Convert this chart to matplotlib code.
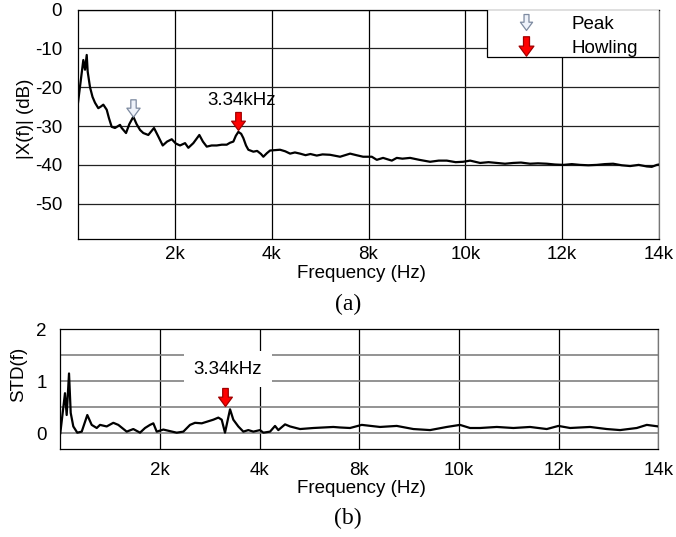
import matplotlib
matplotlib.use('Agg')
import matplotlib.pyplot as plt
from matplotlib.path import Path
from matplotlib.lines import Line2D
from matplotlib.patches import Rectangle

plt.rcParams['font.family'] = ['Liberation Sans', 'DejaVu Sans']
plt.rcParams['axes.unicode_minus'] = False

# (a) spectrum magnitude
freq_a = [0, 60, 110, 145, 180, 200, 248, 300, 351, 419, 470, 523, 593, 640, 696, 764,
          868, 903, 992, 1060, 1143, 1210, 1281, 1349, 1452, 1570, 1659, 1750, 1840, 1936,
          2020, 2107, 2211, 2279, 2382, 2506, 2580, 2659, 2760, 2866, 2970, 3072, 3140,
          3209, 3260, 3312, 3370, 3415, 3470, 3518, 3622, 3700, 3780, 3828, 3900, 3967,
          4070, 4173, 4280, 4380, 4480, 4587, 4700, 4800, 4931, 5050, 5206, 5413, 5620,
          5750, 5888, 6068, 6171, 6301, 6481, 6584, 6700, 6859, 7050, 7272, 7450, 7617,
          7800, 7954, 8099, 8305, 8480, 8650, 8820, 8987, 9150, 9337, 9500, 9683, 9850,
          10026, 10200, 10371, 10540, 10716, 10880, 11053, 11230, 11404, 11580, 11749,
          11850, 11956, 12000]
mag_a = [-24, -18, -13, -15.5, -11.7, -16, -20, -22.5, -24, -25.4, -25, -24.5, -25.8, -28,
         -30.2, -30.5, -29.7, -30.5, -31.8, -29.5, -27.6, -29.5, -31, -31.8, -32.3, -30.5,
         -32.7, -35, -34, -33.4, -34.5, -35, -34.4, -35.6, -34.4, -32.3, -34, -35.3, -35,
         -35, -34.8, -34.8, -34.3, -34, -32.5, -31.5, -32, -33.1, -35, -36.1, -36.6, -36.4,
         -37.2, -37.9, -37, -36.3, -36.2, -36.1, -36.5, -37.1, -36.8, -37.1, -37.5, -37.2,
         -37.6, -37.3, -37.4, -37.9, -37.1, -37.5, -37.9, -37.9, -38.7, -38.2, -38.9,
         -38.2, -38.4, -38.2, -38.7, -39.2, -38.9, -38.9, -39.3, -39.2, -38.9, -39.5,
         -39.3, -39.5, -39.7, -39.5, -39.4, -39.7, -39.6, -39.7, -39.9, -40, -39.8, -40,
         -40.1, -40, -39.8, -39.7, -40.1, -40.3, -40.0, -40.4, -40.5, -40, -39.9]

# (b) standard deviation
freq_b = [0, 94, 128, 175, 209, 261, 341, 430, 542, 630, 731, 797, 931, 1064, 1164, 1333,
          1465, 1600, 1700, 1800, 1867, 1935, 2067, 2200, 2336, 2469, 2603, 2703, 2838,
          2938, 3071, 3171, 3239, 3305, 3406, 3472, 3572, 3673, 3773, 3874, 4008, 4074,
          4209, 4309, 4375, 4510, 4610, 4811, 5078, 5479, 5613, 5814, 6049, 6415, 6752,
          7085, 7420, 7755, 8020, 8222, 8422, 8759, 9092, 9427, 9762, 9995, 10230, 10631,
          10966, 11233, 11568, 11769, 12000]
std_b = [0, 0.77, 0.35, 1.15, 0.39, 0.13, 0.01, 0.03, 0.35, 0.16, 0.1, 0.16, 0.13, 0.2,
         0.16, 0.03, 0.08, 0.01, 0.1, 0.16, 0.19, 0.03, 0.07, 0.04, 0.01, 0.03, 0.16, 0.2,
         0.19, 0.22, 0.26, 0.3, 0.26, 0.01, 0.46, 0.26, 0.13, 0.03, 0.06, 0.03, 0.06, 0.01,
         0.03, 0.14, 0.06, 0.17, 0.13, 0.08, 0.1, 0.12, 0.11, 0.1, 0.16, 0.12, 0.14, 0.08,
         0.06, 0.12, 0.16, 0.1, 0.1, 0.12, 0.1, 0.12, 0.08, 0.14, 0.1, 0.12, 0.08, 0.06,
         0.1, 0.16, 0.13]

tick_pos = [2000, 4000, 6000, 8000, 10000, 12000]
tick_labels = ['2k', '4k', '8k', '10k', '12k', '14k']

arrow = Path([(-0.17, 0.55), (0.17, 0.55), (0.17, 0.02), (0.42, 0.02), (0, -0.55),
              (-0.42, 0.02), (-0.17, 0.02), (-0.17, 0.55)], closed=True)
white_kw = dict(marker=arrow, ls='none', mfc='#eef2fa', mec='#7d8aa0', mew=0.9)
red_kw = dict(marker=arrow, ls='none', mfc='#ff0000', mec='#a00000', mew=0.9)

fs = 13.5
fig = plt.figure(figsize=(6.76, 5.37), dpi=100)
W, H = 676, 537


def px_axes(l, t, r, b):
    return fig.add_axes([l / W, 1 - b / H, (r - l) / W, (b - t) / H])


# ---- (a)
ax1 = px_axes(78, 9.5, 659, 238.7)
ax1.plot(freq_a, mag_a, color='black', lw=1.6, zorder=3)
ax1.set_xlim(0, 12000)
ax1.set_ylim(-59, 0)
ax1.set_xticks(tick_pos, tick_labels)
ax1.set_yticks([0, -10, -20, -30, -40, -50])
ax1.grid(axis='x', color='black', lw=0.9)
ax1.grid(axis='y', color='#222222', lw=0.9)
ax1.tick_params(length=0, labelsize=fs)
ax1.tick_params(axis='x', pad=5.5)
ax1.tick_params(axis='y', pad=11.5)
for s in ax1.spines.values():
    s.set_linewidth(0.9)
ax1.spines['right'].set_color('#777777')

ax1.plot([1136], [-25.3], ms=12.5, zorder=4, **white_kw)
ax1.plot([3305], [-28.8], ms=13, zorder=4, **red_kw)
ax1.text(3378, -23.3, '3.34kHz', fontsize=fs, ha='center', va='center')

ax1.add_patch(Rectangle((0.7045, 0.794), 0.2955, 0.206, transform=ax1.transAxes,
                        fc='white', ec='black', lw=0.9, zorder=5))
handles = [Line2D([], [], ms=11.5, **white_kw), Line2D([], [], ms=14, **red_kw)]
leg = ax1.legend(handles, ['Peak', 'Howling'], loc='upper left',
                 bbox_to_anchor=(0.7544, 0.973), frameon=False, fontsize=fs,
                 handlelength=1.0, handletextpad=1.97, borderpad=0, borderaxespad=0,
                 labelspacing=0.35)
leg.set_zorder(6)

fig.text(25 / W, 1 - 119 / H, '|X(f)| (dB)', rotation=90, ha='center', va='center', fontsize=fs)
fig.text(361 / W, 1 - 273.3 / H, 'Frequency (Hz)', ha='center', va='center', fontsize=fs)
fig.text(348 / W, 1 - 304 / H, '(a)', ha='center', va='center', fontsize=17,
         family='Liberation Serif')

# ---- (b)
ax2 = px_axes(60.3, 329.3, 658.3, 449.3)
ax2.plot(freq_b, std_b, color='black', lw=1.6, zorder=3)
ax2.set_xlim(0, 12000)
ax2.set_ylim(-0.31, 2)
ax2.set_xticks(tick_pos, tick_labels)
ax2.set_yticks([0, 0.5, 1, 1.5, 2], ['0', '', '1', '', '2'])
ax2.grid(axis='x', color='black', lw=0.9)
ax2.grid(axis='y', color='#808080', lw=1.2)
ax2.tick_params(length=0, labelsize=fs)
ax2.tick_params(axis='x', pad=9.4)
ax2.tick_params(axis='y', pad=9.6)
for s in ax2.spines.values():
    s.set_linewidth(0.9)
ax2.spines['right'].set_color('#777777')

ax2.plot([3305], [0.70], ms=13, zorder=4, **red_kw)
ax2.text(3366, 1.23, '3.34kHz', fontsize=fs, ha='center', va='center', zorder=4,
         bbox=dict(boxstyle='square,pad=0.5', fc='white', ec='none'))

fig.text(18.3 / W, 1 - 374 / H, 'STD(f)', rotation=90, ha='center', va='center', fontsize=fs)
fig.text(361 / W, 1 - 488.3 / H, 'Frequency (Hz)', ha='center', va='center', fontsize=fs)
fig.text(347.5 / W, 1 - 518 / H, '(b)', ha='center', va='center', fontsize=17,
         family='Liberation Serif')

fig.savefig('out.png', dpi=100)
